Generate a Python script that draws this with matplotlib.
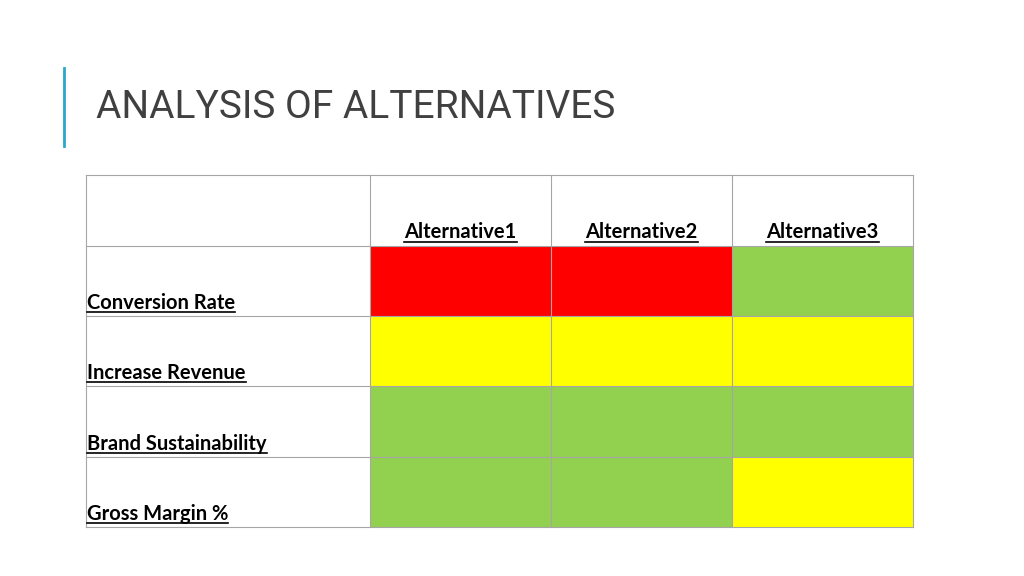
import matplotlib
matplotlib.use("Agg")
import matplotlib.pyplot as plt
from matplotlib.patches import Rectangle

title = "ANALYSIS OF ALTERNATIVES"
alternatives = ["Alternative1", "Alternative2", "Alternative3"]
criteria = ["Conversion Rate", "Increase Revenue", "Brand Sustainability", "Gross Margin %"]
# rating per criterion x alternative: 0 = red, 1 = yellow, 2 = green
ratings = [
    [0, 0, 2],
    [1, 1, 1],
    [2, 2, 2],
    [2, 2, 1],
]
colors = {0: "#FF0000", 1: "#FFFF00", 2: "#92D050"}

fig = plt.figure(figsize=(10.24, 5.76), dpi=100)
ax = fig.add_axes([0, 0, 1, 1])
ax.set_xlim(0, 1024)
ax.set_ylim(576, 0)
ax.axis("off")

# accent bar + title
ax.plot([64, 64], [68, 146], color="#2AA7C9", lw=2)
ax.text(96, 108, title, fontsize=28, color="#404040", va="center", ha="left",
        family=["Roboto", "DejaVu Sans"])

left, first_col = 86, 370
col_w = 181
top, head_h, row_h = 175, 70.5, 70.4
grid = "#A6A6A6"

for i, row in enumerate(ratings):
    for j, r in enumerate(row):
        ax.add_patch(Rectangle((first_col + j * col_w, top + head_h + i * row_h), col_w, row_h,
                               facecolor=colors[r], edgecolor="none"))

right = first_col + col_w * len(alternatives)
bottom = top + head_h + row_h * len(criteria)
ys = [top] + [top + head_h + i * row_h for i in range(len(criteria) + 1)]
for y in ys:
    ax.plot([left, right], [y, y], color=grid, lw=0.8)
for x in [left, first_col] + [first_col + (j + 1) * col_w for j in range(len(alternatives))]:
    ax.plot([x, x], [top, bottom], color=grid, lw=0.8)

font = dict(fontsize=14.5, fontweight="bold", color="black", family=["Lato", "DejaVu Sans"])
labels = []
for j, a in enumerate(alternatives):
    labels.append(ax.text(first_col + (j + 0.5) * col_w, top + head_h - 7, a, ha="center", va="baseline", **font))
for i, c in enumerate(criteria):
    labels.append(ax.text(left + 1, top + head_h + (i + 1) * row_h - 7, c, ha="left", va="baseline", **font))

# underline labels
fig.canvas.draw()
inv = ax.transData.inverted()
for t in labels:
    bb = t.get_window_extent()
    (x0, _), (x1, _) = inv.transform([(bb.x0, bb.y0), (bb.x1, bb.y0)])
    y = t.get_position()[1] + 3
    ax.plot([x0, x1], [y, y], color="black", lw=1.2)

fig.savefig("out.png", dpi=100)
